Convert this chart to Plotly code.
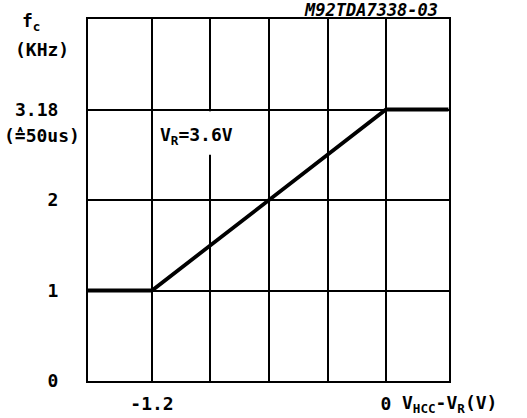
import numpy as np
import plotly.graph_objects as go

# ---- data ----
v_diff = [-1.53, -1.2, 0.0, 0.32]          # VHCC - VR (V)
fc_khz = [1.0, 1.0, 3.18, 3.18]            # fc (kHz)

x_grid_vals = [-1.2, -0.9, -0.6, -0.3, 0.0]
x_tick_text = ["-1.2", "", "", "", "0"]

y_tick_vals = [0, 1, 2, 3.18]              # schematic, equally spaced rows
y_tick_text = ["0", "1", "2", "3.18"]

W, H = 527, 418
L, R, T, B = 88, 449, 19, 381
FONT = "DejaVu Sans Mono"

def paper(px, py):
    return (px - L) / (R - L), (B - py) / (B - T)

# map values onto equally spaced schematic rows
rows = list(range(len(y_tick_vals)))
y_plot = np.interp(fc_khz, y_tick_vals, rows)

fig = go.Figure()
fig.add_trace(go.Scatter(
    x=v_diff, y=y_plot, mode="lines",
    line=dict(color="black", width=3.8),
    hoverinfo="skip", showlegend=False,
))

# gap in the -0.9 grid line under the label
fig.add_shape(type="line", xref="x", yref="y",
              x0=-0.9, x1=-0.9, y0=2.5, y1=2.98,
              line=dict(color="white", width=4), layer="above")

tfont = dict(family=FONT, size=18, color="black", weight="bold")

fig.update_xaxes(
    range=[-1.528, 0.323], tickvals=x_grid_vals, ticktext=x_tick_text,
    showgrid=True, gridcolor="black", gridwidth=1.6,
    showline=True, linecolor="black", linewidth=2, mirror=True,
    zeroline=False, ticks="", ticklabelstandoff=5, tickfont=tfont,
    automargin=False,
)
fig.update_yaxes(
    range=[0, 4], tickvals=rows, ticktext=y_tick_text,
    showgrid=True, gridcolor="black", gridwidth=1.6,
    showline=True, linecolor="black", linewidth=2, mirror=True,
    zeroline=False, ticks="", ticklabelstandoff=24, tickfont=tfont,
    automargin=False,
)

anns = [
    ("f<sub>c</sub>", 31, 22, "center", dict(tfont)),
    ("(KHz)", 42, 49, "center", dict(tfont)),
    ("(≙50us)", 42, 135, "center", dict(tfont)),
    ("V<sub>R</sub>=3.6V", 158, 136, "left", dict(tfont)),
    ("V<sub>HCC</sub>-V<sub>R</sub>(V)", 400, 404, "left", dict(tfont)),
    ("M92TDA7338-03", 371, 10, "center", dict(tfont, size=17, style="italic")),
]
for text, px, py, xa, f in anns:
    xp, yp = paper(px, py)
    fig.add_annotation(text=text, x=xp, y=yp, xref="paper", yref="paper",
                       xanchor=xa, yanchor="middle", showarrow=False, font=f)

fig.update_layout(
    width=W, height=H,
    margin=dict(l=L, r=W - R, t=T, b=H - B),
    paper_bgcolor="white", plot_bgcolor="white",
)
fig.write_html("out.html", config={"displayModeBar": False},
               post_script="document.body.style.margin='0';")
